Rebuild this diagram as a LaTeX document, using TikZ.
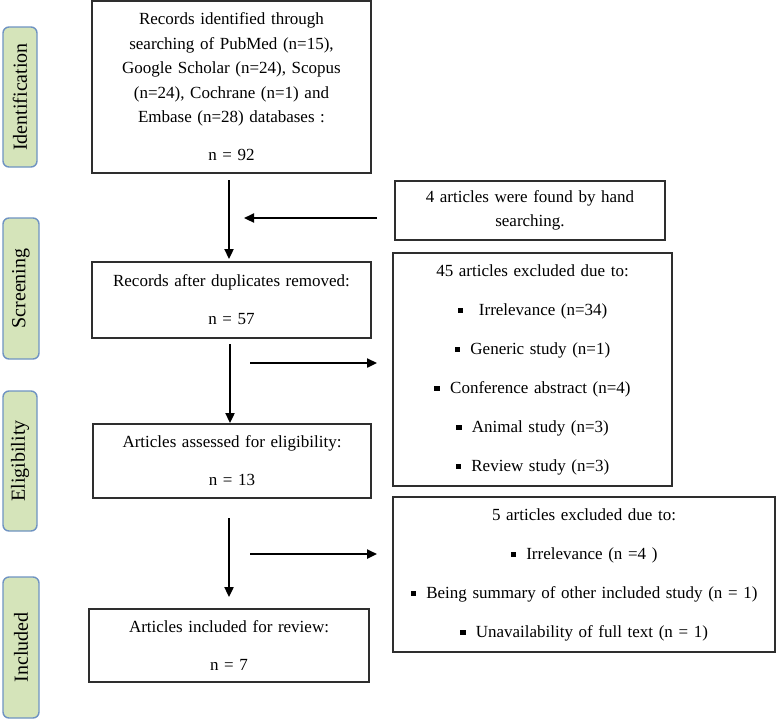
\documentclass[tikz,border=0pt]{standalone}
\usepackage{fontspec}
\setmainfont{Liberation Serif}
\usetikzlibrary{arrows.meta}
\definecolor{sidefill}{HTML}{D5E4BA}
\definecolor{sideline}{HTML}{6F93C2}
\definecolor{boxline}{HTML}{2E2E2E}
\newcommand\sqb{\raisebox{0.22ex}{\rule{5.5pt}{5.5pt}}\hspace{0.6em}}
\newcommand\widesp{\spaceskip=0.33em plus 0.1em\relax}
\begin{document}
\begin{tikzpicture}[x=1pt,y=-1pt,
  sidebox/.style={draw=sideline, line width=1.4pt, fill=sidefill, rounded corners=6pt,
    minimum width=34pt, inner sep=0pt, rotate=90,
    font=\fontsize{20}{24}\selectfont},
  flowbox/.style={draw=boxline, line width=1.2pt, inner sep=0pt, align=center,
    font=\fontsize{17}{24.5}\selectfont\widesp},
  listbox/.style={draw=boxline, line width=1.2pt, inner sep=0pt, align=center,
    font=\fontsize{17}{39}\selectfont\widesp},
  arr/.style={line width=2.3pt, -{Triangle[length=10pt,width=9pt]}}]
\useasboundingbox (0,0) rectangle (778,720);
% side labels
\node[sidebox, minimum height=34pt, minimum width=140pt] (s1) at (20,97) {Identification};
\node[sidebox, minimum height=36pt, minimum width=141pt] (s2) at (21,288.5) {Screening};
\node[sidebox, minimum height=34pt, minimum width=140pt] (s3) at (20,461) {Eligibility};
\node[sidebox, minimum height=36pt, minimum width=141pt] (s4) at (21,647.5) {Included};
% main boxes
\node[flowbox, minimum width=279pt, minimum height=172pt] (b1) at (231.5,87)
  {Records identified  through\\ searching  of PubMed (n=15),\\ Google  Scholar  (n=24), Scopus\\ (n=24), Cochrane  (n=1)  and\\ Embase  (n=28)  databases :\\[13.5pt] n = 92};
\node[flowbox, minimum width=279pt, minimum height=76pt] (b2) at (231.5,300)
  {Records after  duplicates  removed:\\[13.5pt] n = 57};
\node[flowbox, minimum width=278pt, minimum height=74pt] (b3) at (232,461)
  {Articles  assessed  for  eligibility:\\[13.5pt] n = 13};
\node[flowbox, minimum width=280pt, minimum height=73pt] (b4) at (229,645.5)
  {Articles  included  for  review:\\[13.5pt] n = 7};
% right boxes
\node[flowbox, minimum width=270pt, minimum height=59pt] (h) at (530,210.5)
  {4 articles  were  found  by hand\\ searching.};
\node[listbox, minimum width=279pt, minimum height=233pt] (x1) at (532.5,369.5)
  {45 articles  excluded  due  to:\\
   \sqb\ Irrelevance  (n=34)\\
   \sqb Generic  study (n=1)\\
   \sqb Conference  abstract (n=4)\\
   \sqb Animal  study  (n=3)\\
   \sqb Review  study  (n=3)};
\node[listbox, minimum width=382pt, minimum height=155pt] (x2) at (584,574.5)
  {5 articles  excluded  due  to:\\
   \sqb Irrelevance  (n =4 )\\
   \sqb Being  summary  of other included  study (n = 1)\\
   \sqb Unavailability  of full  text (n = 1)};
% arrow end coordinates
\coordinate (a1s) at (229,180);
\coordinate (a1e) at (229,259);
\coordinate (a2s) at (230,344);
\coordinate (a2e) at (230,423);
\coordinate (a3s) at (229,518);
\coordinate (a3e) at (229,597);
\coordinate (hs) at (377,218);
\coordinate (he) at (244,218);
\coordinate (r1s) at (250,363);
\coordinate (r1e) at (377,363);
\coordinate (r2s) at (250,554);
\coordinate (r2e) at (377,554);
\draw[arr] (a1s) -- (a1e);
\draw[arr] (a2s) -- (a2e);
\draw[arr] (a3s) -- (a3e);
\draw[arr] (hs) -- (he);
\draw[arr] (r1s) -- (r1e);
\draw[arr] (r2s) -- (r2e);
\end{tikzpicture}
\end{document}
